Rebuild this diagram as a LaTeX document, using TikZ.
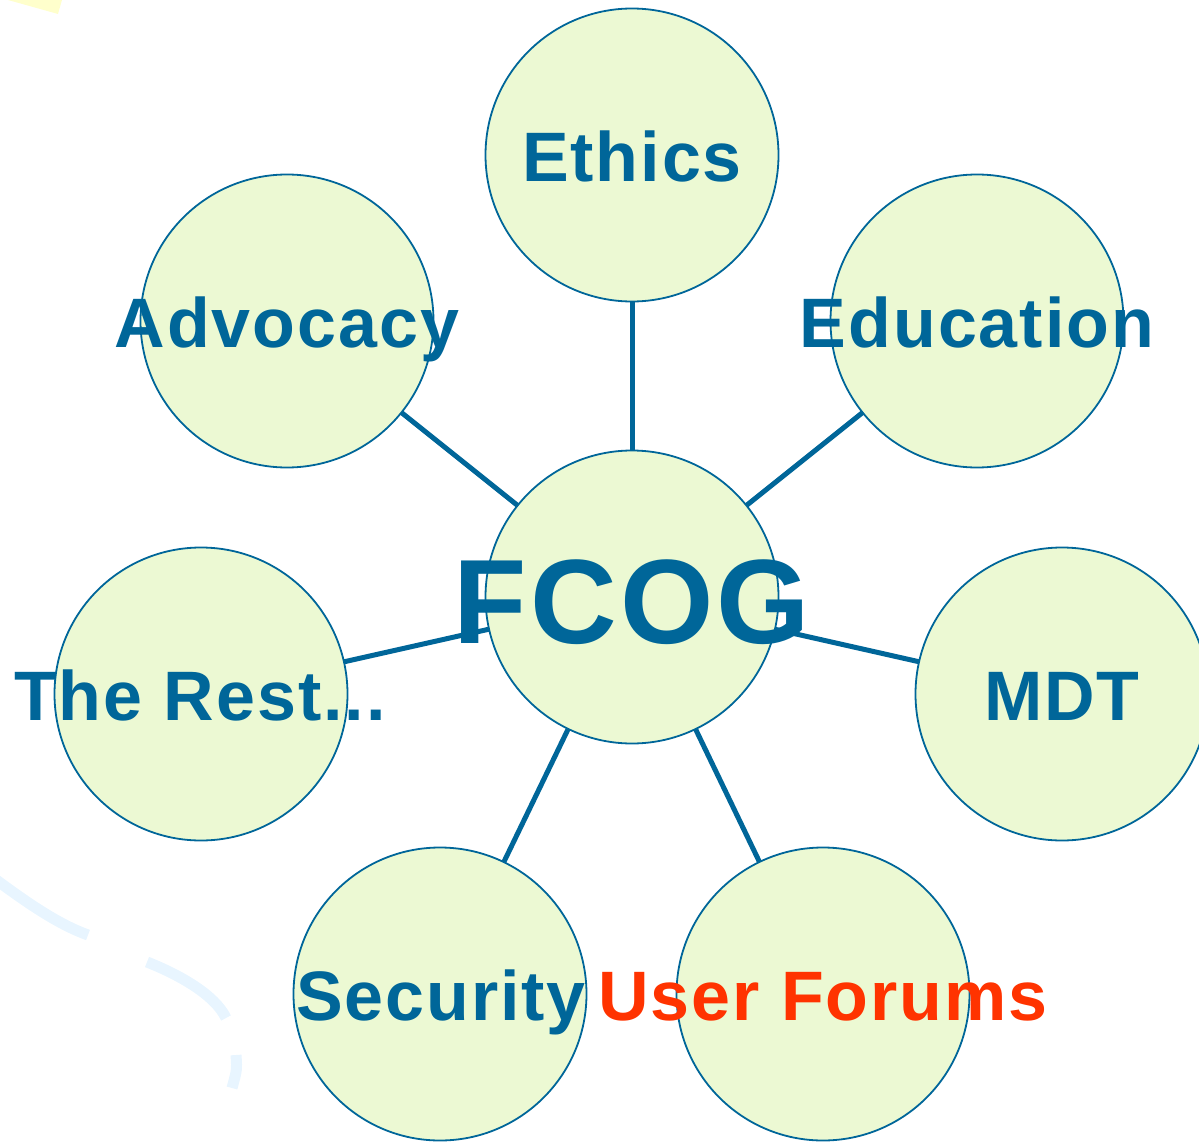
\documentclass[tikz,border=0pt]{standalone}
\usepackage{fontspec}
\setmainfont[LetterSpace=2.8]{Liberation Sans}
\definecolor{fblue}{RGB}{0,102,153}
\definecolor{ffill}{RGB}{236,249,211}
\definecolor{fred}{RGB}{255,51,0}
\definecolor{fyellow}{RGB}{255,255,204}
\definecolor{fsky}{RGB}{232,245,255}
\begin{document}
\begin{tikzpicture}[x=1pt,y=-1pt,
  bubble/.style={circle,draw=fblue,line width=1.8pt,fill=ffill,minimum size=293pt,inner sep=0pt,outer sep=0pt},
  link/.style={draw=fblue,line width=5pt},
  lbl/.style={text=fblue,font=\fontsize{70}{80}\selectfont\bfseries,anchor=base,inner sep=0pt},
  deco/.style={fsky,line width=11pt}
]
\useasboundingbox (0,0) rectangle (1199,1142);
% background decorations
\fill[fyellow] (8,0) -- (62,0) -- (58,14) -- cycle;
\draw[deco] (-5,879) .. controls (30,905) and (60,925) .. (88,935);
\draw[deco] (147,962) .. controls (180,975) and (215,995) .. (226,1018);
\draw[deco] (236,1055) .. controls (237,1070) .. (232,1088);
% bubbles
\node[bubble] (fcog) at (632,597) {};
\node[bubble] (ethics) at (632,155) {};
\node[bubble] (advocacy) at (287,321) {};
\node[bubble] (education) at (977,321) {};
\node[bubble] (rest) at (201,694) {};
\node[bubble] (mdt) at (1062,694) {};
\node[bubble] (security) at (440,994) {};
\node[bubble] (forums) at (823,994) {};
% connectors
\draw[link] (fcog) -- (ethics);
\draw[link] (fcog) -- (advocacy);
\draw[link] (fcog) -- (education);
\draw[link] (fcog) -- (rest);
\draw[link] (fcog) -- (mdt);
\draw[link] (fcog) -- (security);
\draw[link] (fcog) -- (forums);
% labels
\node[lbl] (tethics) at (632,182) {Ethics};
\node[lbl] (tadvocacy) at (287,347) {Advocacy};
\node[lbl] (teducation) at (977,347) {Education};
\node[lbl] (trest) at (200,720) {The Rest...};
\node[lbl] (tmdt) at (1062,720) {MDT};
\node[lbl] (tsecurity) at (441,1020) {Security};
\node[lbl,text=fred] (tforums) at (823,1020) {User Forums};
\node[lbl,font=\fontsize{120}{130}\selectfont\bfseries] (tfcog) at (632,643) {FCOG};
\end{tikzpicture}
\end{document}
